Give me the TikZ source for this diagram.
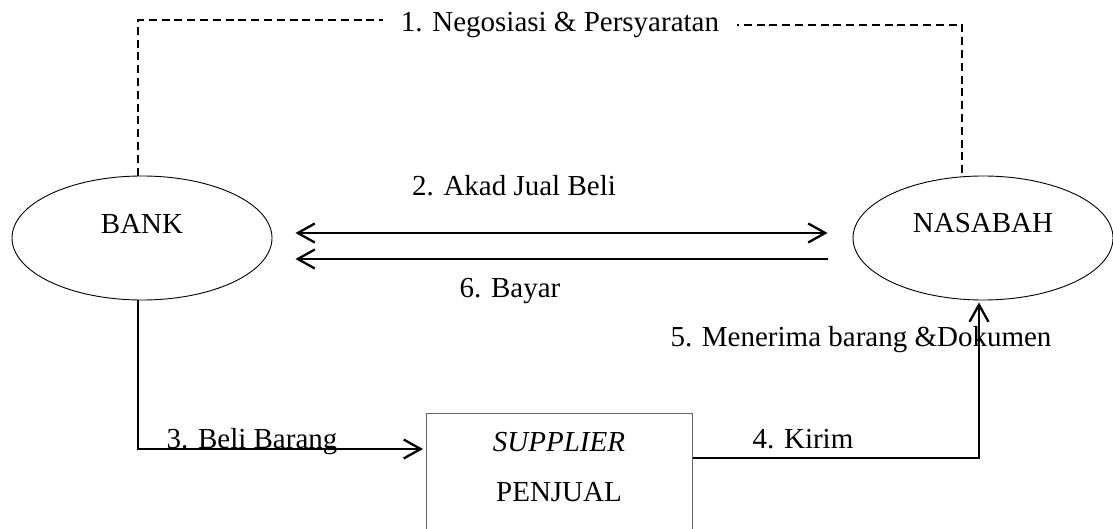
\documentclass[tikz,border=0pt]{standalone}
\usepackage{fontspec}
\setmainfont{Liberation Serif}
\usetikzlibrary{shapes.geometric,arrows.meta}
\begin{document}
\begin{tikzpicture}[x=0.5pt,y=-0.5pt,
  every node/.style={font=\fontsize{14.5pt}{17pt}\selectfont, inner sep=0pt},
  oval/.style={draw, ellipse, line width=0.45pt, minimum width=130pt, minimum height=62pt},
  boxnode/.style={draw=black!60, line width=0.6pt, rectangle, minimum width=133pt, minimum height=65pt, anchor=north west},
  lbl/.style={anchor=base},
  dline/.style={line width=0.6pt, dash pattern=on 4pt off 2.4pt},
  arr/.style={line width=1.15pt, -{Straight Barb[length=8.5pt,width=9.5pt,line width=1.15pt]}},
  darr/.style={line width=1.15pt, {Straight Barb[length=8.5pt,width=9.5pt,line width=1.15pt]}-{Straight Barb[length=8.5pt,width=9.5pt,line width=1.15pt]}}
]
\clip (0,0) rectangle (1113,529);
\fill[white] (0,0) rectangle (1113,529);

% main nodes
\node[oval] (bank) at (142,238) {};
\node[oval] (nasabah) at (983,238) {};
\node[boxnode] (supplier) at (426,413) {};

% texts
\node[lbl] (banktxt) at (142,234) {BANK};
\node[lbl] (nasabahtxt) at (983,233) {NASABAH};
\node[lbl] (suppliertxt) at (559,451) {\textit{SUPPLIER}};
\node[lbl] (penjualtxt) at (559,501) {PENJUAL};

\node[lbl, inner xsep=9pt] (neg) at (560,32) {1. Negosiasi \& Persyaratan};
\node[lbl] (akad) at (514,196) {2. Akad Jual Beli};
\node[lbl] (bayar) at (510,298) {6. Bayar};
\node[lbl] (beli) at (252,448) {3. Beli Barang};
\node[lbl] (kirim) at (803,448) {4. Kirim};
\node[lbl] (terima) at (861,346) {5. Menerima barang \&Dokumen};

% 1. dashed negotiation
\draw[dline] ([xshift=-2pt]bank.north) |- ([yshift=6pt]neg.base west);
\draw[dline, dash phase=3.2pt] ([yshift=3.5pt]neg.base east) -| ([xshift=-10.5pt]nasabah.north);

% 2. akad & 6. bayar
\draw[darr, shorten <=11.5pt, shorten >=12.5pt] ([yshift=2.5pt]bank.east) -- ([yshift=2.5pt]nasabah.west);
\draw[arr, shorten <=12.5pt, shorten >=11.5pt] ([yshift=-10.5pt]nasabah.west) -- ([yshift=-10.5pt]bank.east);

% 3. beli barang
\draw[arr, shorten >=1.5pt] ([xshift=-2pt]bank.south) |- ([yshift=-18pt]supplier.north west);

% 4. kirim / 5. terima
\draw[arr, shorten >=1pt] ([yshift=-22.5pt]supplier.north east) -| ([xshift=-2pt]nasabah.south);
\end{tikzpicture}
\end{document}
